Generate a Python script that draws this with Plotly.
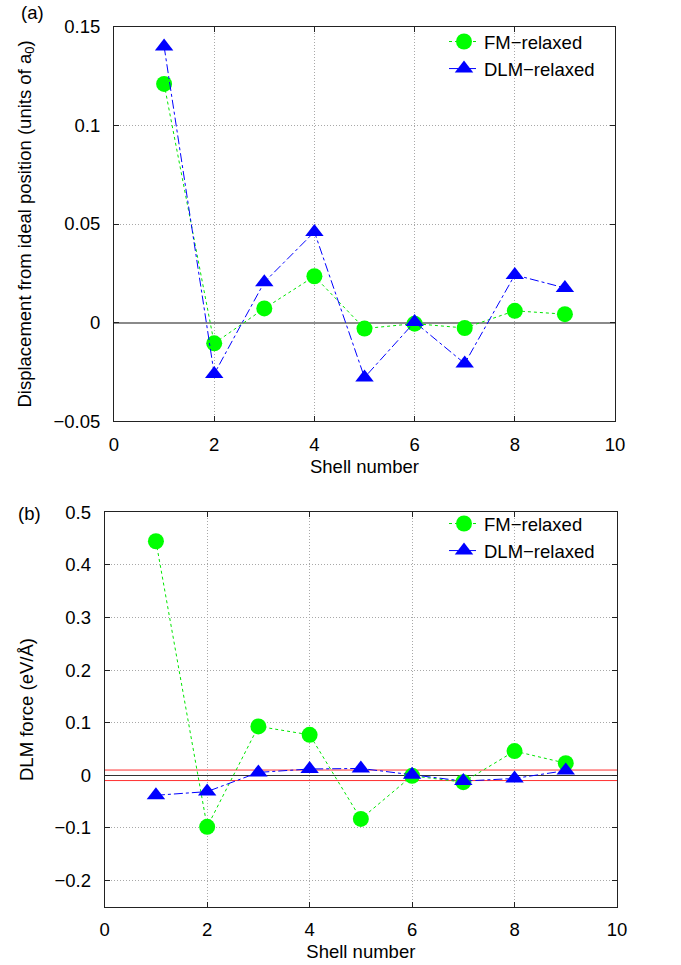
import plotly.graph_objects as go

# ---- data ----
shells = [1, 2, 3, 4, 5, 6, 7, 8, 9]

disp_fm = [0.121, -0.0105, 0.0072, 0.0235, -0.003, -0.0005, -0.0027, 0.006, 0.0043]
disp_dlm = [0.140, -0.026, 0.0205, 0.046, -0.0278, 0.0003, -0.0207, 0.0242, 0.0176]

force_fm = [0.445, -0.098, 0.093, 0.077, -0.083, -0.001, -0.013, 0.046, 0.023]
force_dlm = [-0.038, -0.031, 0.0055, 0.012, 0.013, 0.001, -0.011, -0.006, 0.009]

force_tolerance = [0.01, -0.01]

names = ["FM−relaxed", "DLM−relaxed"]

FONT = "Liberation Sans, Arial, Helvetica, sans-serif"
FS = 18.5

fig = go.Figure()

def add_series(xa, ya, fm, dlm, legend):
    fig.add_trace(go.Scatter(
        x=shells, y=fm, name=names[0], mode="lines+markers",
        line=dict(color="#00e600", width=1, dash="dot"),
        marker=dict(symbol="circle", size=16, color="#00ff00"),
        xaxis=xa, yaxis=ya, legend=legend))
    fig.add_trace(go.Scatter(
        x=shells, y=dlm, name=names[1], mode="lines+markers",
        line=dict(color="#0000ff", width=1, dash="dashdot"),
        marker=dict(symbol="triangle-up", size=16, color="#0000ff"),
        xaxis=xa, yaxis=ya, legend=legend))

add_series("x", "y", disp_fm, disp_dlm, "legend")
add_series("x2", "y2", force_fm, force_dlm, "legend2")

# tolerance lines in panel (b)
for t in force_tolerance:
    fig.add_shape(type="line", xref="x2 domain", yref="y2", x0=0, x1=1, y0=t, y1=t,
                  line=dict(color="#ff3030", width=1), layer="below")

axis_common = dict(
    showline=True, linecolor="#222222", linewidth=1, mirror="ticks",
    ticks="inside", ticklen=5, tickcolor="#222222", tickwidth=1,
    showgrid=True, gridcolor="#a8a8a8", gridwidth=1, griddash="1px,2px",
    tickfont=dict(family=FONT, size=FS, color="black"),
    automargin=False,
)

fig.update_layout(
    width=681, height=965,
    margin=dict(l=0, r=0, t=0, b=0, autoexpand=False),
    paper_bgcolor="white", plot_bgcolor="white",
    font=dict(family=FONT, size=FS, color="black"),
    xaxis=dict(domain=[114/681, 615/681], anchor="y", range=[0, 10], dtick=2, tick0=0,
               zeroline=False, ticklabelstandoff=6,
               title=dict(text="Shell number", standoff=6, font=dict(size=FS)),
               **axis_common),
    yaxis=dict(domain=[1-421.3/965, 1-26.7/965], anchor="x", range=[-0.05, 0.15], dtick=0.05, tick0=0,
               zeroline=True, zerolinecolor="#8a8a8a", zerolinewidth=2, ticklabelstandoff=9,
               title=dict(text="Displacement from ideal position (units of a<sub>0</sub>)", standoff=17,
                          font=dict(size=FS)),
               **axis_common),
    xaxis2=dict(domain=[104.7/681, 617/681], anchor="y2", range=[0, 10], dtick=2, tick0=0,
                zeroline=False, ticklabelstandoff=6,
                title=dict(text="Shell number", standoff=6, font=dict(size=FS)),
                **axis_common),
    yaxis2=dict(domain=[1-906.8/965, 1-512.3/965], anchor="x2", range=[-0.25, 0.5], dtick=0.1, tick0=0,
                zeroline=True, zerolinecolor="#333333", zerolinewidth=1, ticklabelstandoff=9,
                title=dict(text="DLM force (eV/Å)", standoff=15, font=dict(size=FS)),
                **axis_common),
    legend=dict(x=600/681, xanchor="right", y=1-23/965, yanchor="top",
                bgcolor="rgba(0,0,0,0)", font=dict(size=FS), tracegroupgap=0),
    legend2=dict(x=600/681, xanchor="right", y=1-505/965, yanchor="top",
                 bgcolor="rgba(0,0,0,0)", font=dict(size=FS), tracegroupgap=0),
    showlegend=True,
    annotations=[
        dict(text="(a)", x=32/681, y=1-13/965, xref="paper", yref="paper",
             showarrow=False, font=dict(size=FS), xanchor="center", yanchor="middle"),
        dict(text="(b)", x=29/681, y=1-513/965, xref="paper", yref="paper",
             showarrow=False, font=dict(size=FS), xanchor="center", yanchor="middle"),
    ],
)

fig.write_html("out.html", config={"displayModeBar": False},
               post_script="document.body.style.margin='0';document.body.style.overflow='hidden';")
